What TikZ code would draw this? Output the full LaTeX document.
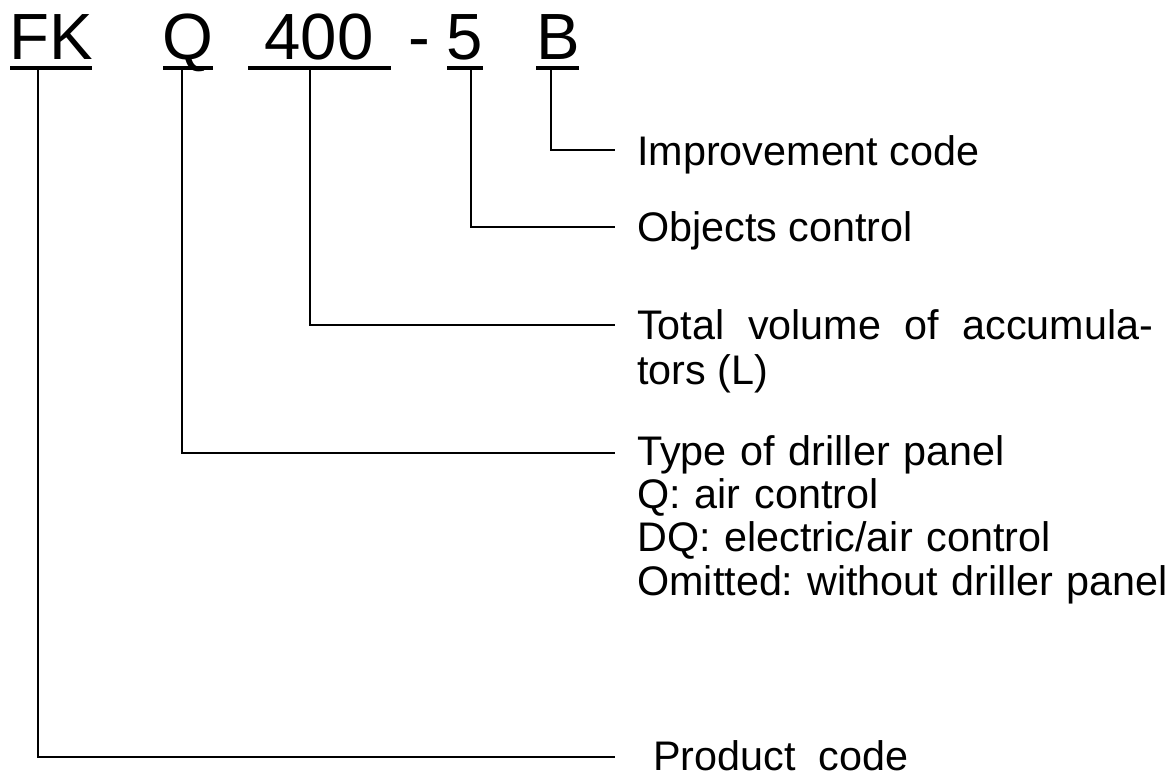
\documentclass[tikz,border=0pt]{standalone}
\usepackage{fontspec}
\setmainfont{Liberation Sans}
\usetikzlibrary{positioning}
\frenchspacing

\tikzset{
  code/.style={anchor=base,inner sep=0pt,font=\fontsize{49}{55}\selectfont},
  lbl/.style={anchor=base west,inner sep=0pt,font=\fontsize{31}{33}\selectfont},
  uline/.style={line width=3.6pt},
  lead/.style={line width=1.5pt}
}

\begin{document}
\begin{tikzpicture}[x=0.75pt,y=-0.75pt]
  \useasboundingbox (0,0) rectangle (1176,781);
  % model code
  \node[code] (fk) at (51,60) {FK};
  \node[code] (q) at (188,60) {Q};
  \node[code] (vol) at (319,60) {400};
  \node[code] (hy) at (419,60) {-};
  \node[code] (ctrl) at (465,60) {5};
  \node[code] (imp) at (558,60) {B};
  \foreach \a/\b in {10/92,163/213,248/391,447/483,536/579}
    \draw[uline] (\a,68) -- (\b,68);
  % taps under the code
  \coordinate (tfk) at (38,68);
  \coordinate (tq) at (182,68);
  \coordinate (tvol) at (310,68);
  \coordinate (tctrl) at (471,68);
  \coordinate (timp) at (551,68);
  % ends of the leaders
  \coordinate (eimp) at (615,150);
  \coordinate (ectrl) at (615,227);
  \coordinate (evol) at (615,325);
  \coordinate (eq) at (615,453);
  \coordinate (efk) at (615,757);
  % labels
  \node[lbl] (improve) at (637,165) {Improvement code};
  \node[lbl] (objects) at (637,241) {Objects control};
  \node[lbl,text width=387pt,align=justify,font=\fontsize{31}{34}\selectfont] (volume) at (637,339)
    {Total volume of accumula-\linebreak tors (L)};
  \node[lbl,text width=420pt,align=left,font=\fontsize{31}{32.5}\selectfont] (panel) at (637,465)
    {Type of driller panel\\Q: air control\\DQ: electric/air control\\Omitted: without driller panel};
  \node[lbl] (product) at (653,770) {Product\ \ code};
  \draw[lead] (timp) |- (eimp);
  \draw[lead] (tctrl) |- (ectrl);
  \draw[lead] (tvol) |- (evol);
  \draw[lead] (tq) |- (eq);
  \draw[lead] (tfk) |- (efk);
\end{tikzpicture}
\end{document}
